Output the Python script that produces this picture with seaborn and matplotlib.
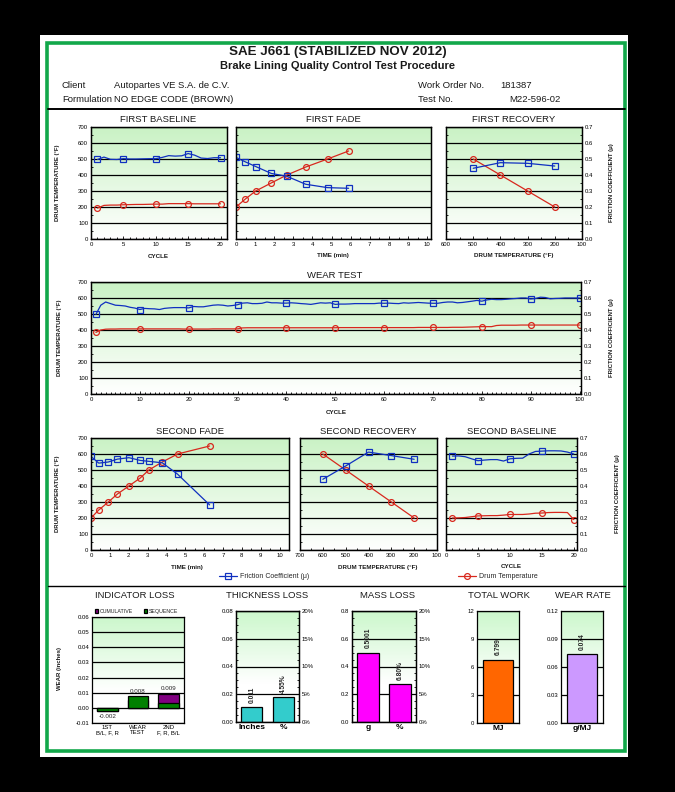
import numpy as np
import seaborn as sns
import matplotlib.pyplot as plt
from matplotlib.patches import Rectangle
from matplotlib.lines import Line2D
from matplotlib.ticker import MultipleLocator, FormatStrFormatter

W, H = 675, 792

# header text
title = 'SAE J661 (STABILIZED NOV 2012)'
subtitle = 'Brake Lining Quality Control Test Procedure'
client = 'Autopartes VE S.A. de C.V.'
formulation = 'NO EDGE CODE (BROWN)'
work_order = '181387'
test_no = 'M22-596-02'

# first baseline
fb_cycle = np.arange(1, 21)
fb_mu = [0.497, 0.512, 0.498, 0.497, 0.502, 0.500, 0.500, 0.501, 0.502, 0.502,
         0.510, 0.521, 0.518, 0.520, 0.534, 0.524, 0.506, 0.503, 0.508, 0.508]
fb_temp = [193, 210, 212, 212, 214, 215, 216, 216, 217, 218,
           218, 221, 221, 221, 221, 220, 220, 220, 220, 220]
baseline_marks = [0, 4, 9, 14, 19]

# first fade
ff_time = [0, 0.49, 1.03, 1.84, 2.66, 3.65, 4.79, 5.89]
ff_mu = [0.510, 0.482, 0.453, 0.410, 0.392, 0.342, 0.321, 0.317]
ff_temp = [200, 250, 300, 350, 400, 450, 500, 550]

# first recovery
fr_drum = [500, 400, 300, 200]
fr_mu = [0.442, 0.477, 0.473, 0.456]
fr_temp = [500, 400, 300, 200]

# wear test
wt_cycle = np.arange(1, 101)
wt_mu = [0.497, 0.555, 0.575, 0.565, 0.555, 0.553, 0.550, 0.542, 0.537, 0.528,
         0.535, 0.533, 0.532, 0.528, 0.535, 0.538, 0.540, 0.540, 0.540, 0.538,
         0.547, 0.545, 0.545, 0.550, 0.555, 0.557, 0.555, 0.550, 0.553, 0.558,
         0.568, 0.570, 0.565, 0.565, 0.567, 0.575, 0.570, 0.570, 0.568, 0.568,
         0.570, 0.568, 0.565, 0.563, 0.560, 0.565, 0.570, 0.568, 0.570, 0.560,
         0.562, 0.562, 0.563, 0.565, 0.565, 0.565, 0.565, 0.565, 0.568, 0.567,
         0.568, 0.566, 0.565, 0.570, 0.568, 0.570, 0.572, 0.570, 0.568, 0.567,
         0.567, 0.572, 0.575, 0.575, 0.570, 0.572, 0.576, 0.580, 0.585, 0.580,
         0.588, 0.592, 0.590, 0.590, 0.592, 0.595, 0.597, 0.600, 0.600, 0.594,
         0.597, 0.605, 0.603, 0.595, 0.597, 0.598, 0.600, 0.600, 0.600, 0.600]
wt_temp = [385, 400, 405, 406, 406, 407, 407, 407, 407, 407,
           407, 407, 407, 407, 407, 407, 407, 407, 406, 406,
           406, 406, 406, 406, 407, 407, 407, 407, 407, 407,
           413, 414, 414, 414, 414, 414, 414, 414, 414, 414,
           414, 414, 414, 414, 414, 414, 414, 414, 414, 414,
           415, 415, 415, 415, 415, 415, 415, 415, 415, 415,
           415, 415, 415, 415, 415, 415, 416, 416, 416, 416,
           416, 416, 416, 417, 417, 417, 418, 419, 420, 421,
           421, 421, 428, 430, 430, 430, 430, 431, 431, 431,
           431, 431, 431, 431, 431, 431, 431, 431, 431, 431]
wear_marks = [0, 9, 19, 29, 39, 49, 59, 69, 79, 89, 99]

# second fade
sf_time = [0, 0.41, 0.92, 1.40, 2.01, 2.61, 3.07, 3.78, 4.59, 6.29]
sf_mu = [0.585, 0.543, 0.550, 0.568, 0.577, 0.560, 0.554, 0.545, 0.474, 0.282]
sf_temp = [200, 250, 300, 350, 400, 450, 500, 550, 600, 650]

# second recovery
sr_drum = [600, 500, 400, 300, 200]
sr_mu = [0.442, 0.525, 0.612, 0.590, 0.567]
sr_temp = [600, 500, 400, 300, 200]

# second baseline
sb_cycle = np.arange(1, 21)
sb_mu = [0.587, 0.588, 0.583, 0.570, 0.558, 0.562, 0.565, 0.565, 0.556, 0.570,
         0.573, 0.574, 0.600, 0.616, 0.618, 0.620, 0.620, 0.619, 0.612, 0.600]
sb_temp = [200, 201, 203, 208, 213, 214, 215, 215, 218, 222,
           222, 222, 225, 230, 231, 234, 235, 235, 234, 190]

# bottom bar charts
ind_cats = ['1ST\nB/L, F, R', 'WEAR\nTEST', '2ND\nF, R, B/L']
ind_cumulative = [-0.0022, 0.0054, 0.0094]
ind_sequence = [-0.0022, 0.0076, 0.0032]
ind_cum_labels = ['', '', '0.009']
ind_seq_labels = ['-0.002', '0.008', '']

thick_cats = ['Inches', '%']
thick_in = 0.011
thick_pct = 4.55
mass_cats = ['g', '%']
mass_g = 0.5001
mass_pct = 6.80
work_cats = ['MJ']
work_mj = [6.799]
rate_cats = ['g/MJ']
rate_gmj = [0.074]

BLUE = '#1030C0'
RED = '#D8281E'
GREEN_BORDER = '#12A84A'

sns.set_theme(style='white')
plt.rcParams['font.family'] = ['Liberation Sans', 'DejaVu Sans']
plt.rcParams['axes.edgecolor'] = 'black'
plt.rcParams['axes.linewidth'] = 0.9

fig = plt.figure(figsize=(W / 100, H / 100), dpi=100)
fig.patch.set_facecolor('black')

bg = fig.add_axes([0, 0, 1, 1])
bg.set_xlim(0, W)
bg.set_ylim(H, 0)
bg.axis('off')
bg.add_patch(Rectangle((40, 35), 588, 722, facecolor='white', edgecolor='none'))
bg.add_patch(Rectangle((47, 43), 578, 708, facecolor='none', edgecolor=GREEN_BORDER, linewidth=2.6))
bg.plot([48, 625], [109, 109], color='black', linewidth=1.4)
bg.plot([48, 625], [586, 586], color='black', linewidth=1.0)


def txt(x, y, s, size=7, ha='center', **kw):
    bg.text(x, y, s, fontsize=size, ha=ha, va='center', color='#1a1a1a', **kw)


txt(338, 52, title, 9.6, weight='bold')
txt(338, 66, subtitle, 8, weight='bold')
txt(62, 85, 'Client', 6.8, ha='left')
txt(114, 85, client, 6.8, ha='left')
txt(418, 85, 'Work Order No.', 6.8, ha='left')
txt(500, 85, work_order, 6.8, ha='left')
txt(62, 99, 'Formulation', 6.8, ha='left')
txt(114, 99, formulation, 6.8, ha='left')
txt(418, 99, 'Test No.', 6.8, ha='left')
txt(509, 99, test_no, 6.8, ha='left')


def px_axes(x0, y0, x1, y1):
    return fig.add_axes([x0 / W, 1 - y1 / H, (x1 - x0) / W, (y1 - y0) / H])


def green_bg(ax, start=0.0, top=(0.79, 0.95, 0.77)):
    x0, x1 = ax.get_xlim()
    y0, y1 = ax.get_ylim()
    t = np.linspace(0, 1, 200)
    f = np.clip((t - start) / (1 - start), 0, 1)[:, None, None]
    rgb = (1 - f) * np.ones((200, 1, 3)) + f * np.array(top)
    ax.imshow(rgb, extent=(x0, x1, y0, y1), origin='lower', aspect='auto',
              zorder=0, interpolation='bilinear')
    ax.set_xlim(x0, x1)
    ax.set_ylim(y0, y1)


def style_ticks(ax):
    ax.tick_params(which='both', direction='in', width=0.6, labelsize=4.3, pad=2,
                   colors='black')
    ax.tick_params(which='major', length=2.5)
    ax.tick_params(which='minor', length=1.5)


def line_panel(box, xlim, xmajor, xminor, left_lab, right_lab):
    ax = px_axes(*box)
    ax.set_xlim(*xlim)
    ax.set_ylim(0, 700)
    green_bg(ax)
    ax.yaxis.set_major_locator(MultipleLocator(100))
    ax.yaxis.set_minor_locator(MultipleLocator(50))
    ax.xaxis.set_major_locator(MultipleLocator(xmajor))
    ax.xaxis.set_minor_locator(MultipleLocator(xminor))
    ax.grid(axis='y', which='major', color='black', linewidth=0.9)
    ax.set_axisbelow(True)
    style_ticks(ax)
    ax.tick_params(axis='y', which='both', left=True, labelleft=left_lab)
    ax.tick_params(axis='x', which='both', bottom=True)
    axr = ax.twinx()
    axr.set_ylim(0, 0.7)
    if right_lab:
        axr.yaxis.set_major_locator(MultipleLocator(0.1))
        axr.yaxis.set_minor_locator(MultipleLocator(0.05))
        axr.yaxis.set_major_formatter(FormatStrFormatter('%.1f'))
        style_ticks(axr)
    else:
        axr.set_yticks([])
    for a in (ax, axr):
        for sp in a.spines.values():
            sp.set_linewidth(0.9)
            sp.set_color('black')
    return ax, axr


def series(ax, x, y, color, marker, every=None):
    sns.lineplot(x=x, y=y, ax=ax, color=color, linewidth=0.9, marker=marker,
                 markersize=4.2, markerfacecolor='none', markeredgecolor=color,
                 markeredgewidth=0.9, markevery=every, estimator=None, sort=False)
    ax.set_xlabel('')
    ax.set_ylabel('')


# row 1
ax, axr = line_panel((91, 127, 227, 239), (0, 21), 5, 1, True, False)
series(ax, fb_cycle, fb_temp, RED, 'o', baseline_marks)
series(axr, fb_cycle, fb_mu, BLUE, 's', baseline_marks)

ax, axr = line_panel((236, 127, 431, 239), (0, 10.2), 1, 0.5, False, False)
series(ax, ff_time, ff_temp, RED, 'o')
series(axr, ff_time, ff_mu, BLUE, 's')

ax, axr = line_panel((446, 127, 582, 239), (600, 100), 100, 50, False, True)
series(ax, fr_drum, fr_temp, RED, 'o')
series(axr, fr_drum, fr_mu, BLUE, 's')

# wear test
ax, axr = line_panel((91, 282, 581, 394), (0, 100.3), 10, 1, True, True)
series(ax, wt_cycle, wt_temp, RED, 'o', wear_marks)
series(axr, wt_cycle, wt_mu, BLUE, 's', wear_marks)

# row 2
ax, axr = line_panel((91, 438, 289, 550), (0, 10.5), 1, 0.5, True, False)
series(ax, sf_time, sf_temp, RED, 'o')
series(axr, sf_time, sf_mu, BLUE, 's')

ax, axr = line_panel((300, 438, 437, 550), (700, 100), 100, 50, False, False)
series(ax, sr_drum, sr_temp, RED, 'o')
series(axr, sr_drum, sr_mu, BLUE, 's')

ax, axr = line_panel((446, 438, 577, 550), (0, 20.5), 5, 1, False, True)
series(ax, sb_cycle, sb_temp, RED, 'o', baseline_marks)
series(axr, sb_cycle, sb_mu, BLUE, 's', baseline_marks)

# panel titles and axis labels
for x, y, s in [(158, 119, 'FIRST BASELINE'), (333, 119, 'FIRST FADE'),
                (514, 119, 'FIRST RECOVERY'), (335, 275, 'WEAR TEST'),
                (190, 431, 'SECOND FADE'), (368, 431, 'SECOND RECOVERY'),
                (512, 431, 'SECOND BASELINE')]:
    txt(x, y, s, 6.8)
for x, y, s in [(158, 256, 'CYCLE'), (333, 256, 'TIME (min)'),
                (514, 256, 'DRUM TEMPERATURE (°F)'), (336, 413, 'CYCLE'),
                (187, 567, 'TIME (min)'), (378, 567, 'DRUM TEMPERATURE (°F)'),
                (511, 567, 'CYCLE')]:
    txt(x, y, s, 4.5, weight='bold')
for x, y in [(58, 183), (60, 338), (58, 494)]:
    txt(x, y, 'DRUM TEMPERATURE (°F)', 4.3, rotation=90, weight='bold')
for x, y in [(612, 183), (612, 338), (617, 494)]:
    txt(x, y, 'FRICTION COEFFICIENT (μ)', 4.3, rotation=90, weight='bold')

h_mu = Line2D([], [], color=BLUE, linewidth=0.9, marker='s', markersize=4.2,
              markerfacecolor='none', markeredgecolor=BLUE, markeredgewidth=0.9)
h_temp = Line2D([], [], color=RED, linewidth=0.9, marker='o', markersize=4.2,
                markerfacecolor='none', markeredgecolor=RED, markeredgewidth=0.9)
for h, lab, x in [(h_mu, 'Friction Coefficient (μ)', 219), (h_temp, 'Drum Temperature', 458)]:
    fig.legend(handles=[h], labels=[lab], loc='center left',
               bbox_to_anchor=(x / W, 1 - 577 / H), frameon=False, fontsize=5,
               handlelength=2.6, handletextpad=0.4, borderpad=0, borderaxespad=0)


# bottom bar charts
def bar_axes_style(ax, ylim, major, minor, fmt):
    ax.set_ylim(*ylim)
    ax.yaxis.set_major_locator(MultipleLocator(major))
    ax.yaxis.set_minor_locator(MultipleLocator(minor))
    ax.yaxis.set_major_formatter(FormatStrFormatter(fmt))
    style_ticks(ax)
    ax.tick_params(axis='x', which='both', bottom=False, labelsize=6, pad=1.5)
    ax.set_xlabel('')
    ax.set_ylabel('')
    for sp in ax.spines.values():
        sp.set_linewidth(0.9)
        sp.set_color('black')


bar_kw = dict(edgecolor='black', linewidth=0.9, saturation=1, errorbar=None)

# indicator loss
ax = px_axes(92, 617, 184, 723)
sns.barplot(x=ind_cats, y=ind_cumulative, ax=ax, color='#800080', width=0.68,
            label='CUMULATIVE', **bar_kw)
sns.barplot(x=ind_cats, y=ind_sequence, ax=ax, color='#008000', width=0.68,
            label='SEQUENCE', **bar_kw)
bar_axes_style(ax, (-0.01, 0.06), 0.01, 0.005, '%.2f')
ax.tick_params(axis='x', labelsize=4.3)
for lab in ax.get_xticklabels():
    lab.set_linespacing(1.0)
ax.yaxis.set_minor_locator(MultipleLocator(0.01))
ax.grid(axis='y', which='major', color='black', linewidth=0.9)
ax.set_axisbelow(True)
green_bg(ax, start=0.3, top=(0.80, 0.97, 0.80))
ax.bar_label(ax.containers[0], labels=ind_cum_labels, fontsize=4.5, padding=2)
ax.bar_label(ax.containers[1], labels=ind_seq_labels, fontsize=4.5, padding=2)
ax.legend(loc='lower left', bbox_to_anchor=(0, 1.0), ncol=2, fontsize=3.8,
          frameon=False, handlelength=0.6, handleheight=0.6, handletextpad=0.2,
          columnspacing=2.2, borderpad=0, borderaxespad=0.6)
txt(135, 595, 'INDICATOR LOSS', 6.8)
txt(60, 668, 'WEAR (inches)', 4.3, rotation=90, weight='bold')


def dual_bar(box, cats, left_val, right_val, color, lims, l_fmt, labels, title_xy, name):
    ax = px_axes(*box)
    sns.barplot(x=[cats[0]], y=[left_val], order=cats, ax=ax, color=color,
                width=0.68, **bar_kw)
    bar_axes_style(ax, (0, lims[0]), lims[0] / 4, lims[0] / 16, l_fmt)
    ax.tick_params(axis='x', labelsize=6)
    for lab in ax.get_xticklabels():
        lab.set_fontweight('bold')
    ax.grid(axis='y', which='major', color='black', linewidth=0.9)
    ax.set_axisbelow(True)
    green_bg(ax, start=0.35, top=(0.80, 0.97, 0.80))
    axr = ax.twinx()
    sns.barplot(x=[cats[1]], y=[right_val], order=cats, ax=axr, color=color,
                width=0.68, **bar_kw)
    bar_axes_style(axr, (0, 20), 5, 1.25, '%d%%')
    ax.tick_params(axis='x', labelsize=6)
    ax.bar_label(ax.containers[0], labels=[labels[0]], rotation=90, fontsize=4.8,
                 padding=3, fontweight='bold')
    axr.bar_label(axr.containers[0], labels=[labels[1]], rotation=90, fontsize=4.8,
                  padding=3, fontweight='bold')
    txt(title_xy[0], title_xy[1], name, 6.8)


dual_bar((236, 611, 299, 722), thick_cats, thick_in, thick_pct, '#33CCCC',
         (0.08,), '%.2f', ['0.011', '4.55%'], (267, 595), 'THICKNESS LOSS')
dual_bar((352, 611, 416, 722), mass_cats, mass_g, mass_pct, '#FF00FF',
         (0.8,), '%.1f', ['0.5001', '6.80%'], (388, 595), 'MASS LOSS')


def single_bar(box, cats, vals, color, top, major, minor, fmt, label, title_xy, name):
    ax = px_axes(*box)
    sns.barplot(x=cats, y=vals, ax=ax, color=color, width=0.7, **bar_kw)
    bar_axes_style(ax, (0, top), major, minor, fmt)
    for lab in ax.get_xticklabels():
        lab.set_fontweight('bold')
    ax.grid(axis='y', which='major', color='black', linewidth=0.9)
    ax.set_axisbelow(True)
    green_bg(ax, start=0.35, top=(0.80, 0.97, 0.80))
    ax.bar_label(ax.containers[0], labels=[label], rotation=90, fontsize=4.8,
                 padding=3, fontweight='bold')
    txt(title_xy[0], title_xy[1], name, 6.8)


single_bar((477, 611, 519, 723), work_cats, work_mj, '#FF6600', 12, 3, 1, '%d',
           '6.799', (499, 595), 'TOTAL WORK')
single_bar((561, 611, 603, 723), rate_cats, rate_gmj, '#CC99FF', 0.12, 0.03, 0.01, '%.2f',
           '0.074', (583, 595), 'WEAR RATE')

fig.savefig('out.png', dpi=100, facecolor=fig.get_facecolor())
